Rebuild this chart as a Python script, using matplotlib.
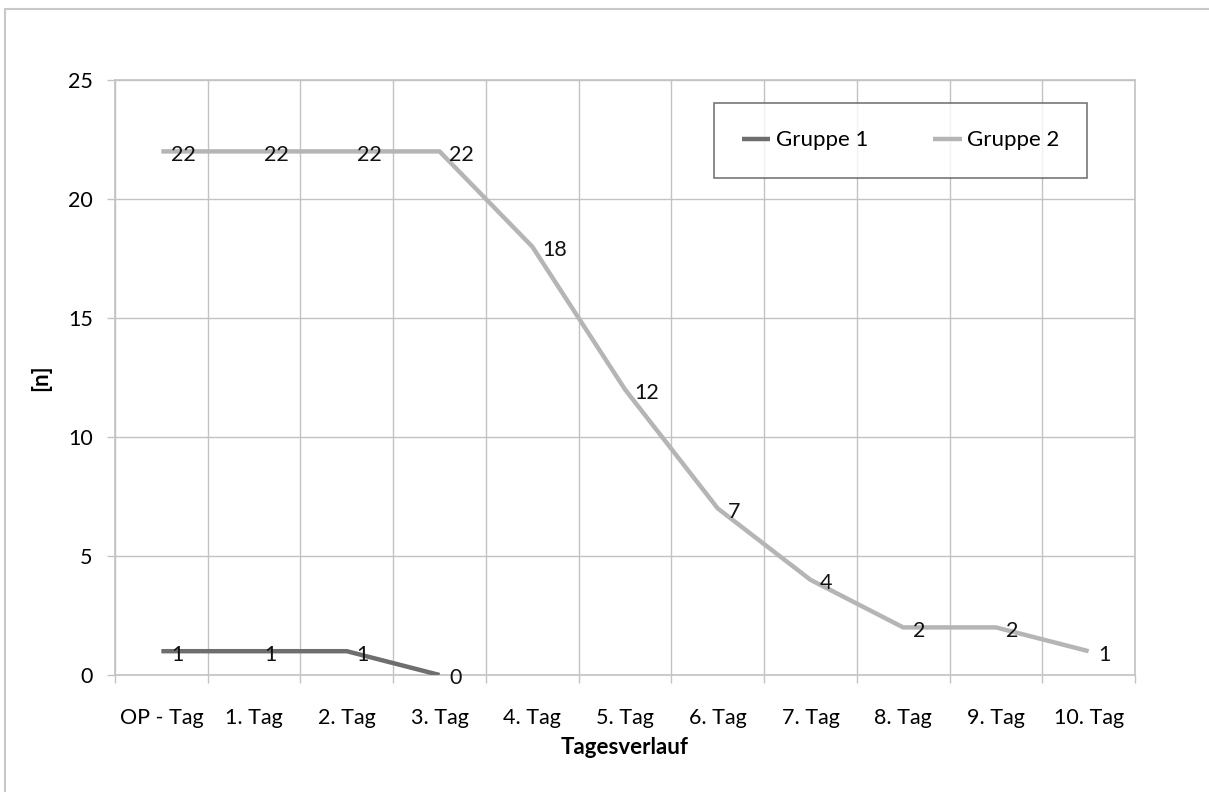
import numpy as np
import matplotlib.pyplot as plt
from matplotlib.patches import Rectangle

# -----------------------------
# DATA
# -----------------------------

tage = ["OP - Tag", "1. Tag", "2. Tag", "3. Tag", "4. Tag", "5. Tag",
        "6. Tag", "7. Tag", "8. Tag", "9. Tag", "10. Tag"]

gruppe_1 = [1, 1, 1, 0]
gruppe_2 = [22, 22, 22, 22, 18, 12, 7, 4, 2, 2, 1]

# -----------------------------
# STYLE
# -----------------------------

plt.rcParams['font.family'] = ['Lato', 'DejaVu Sans']
grid_col = "#c2c2c2"
col_1 = "#6e6e6e"
col_2 = "#b5b5b5"
fs = 15.5

fig = plt.figure(figsize=(12.09, 7.92), dpi=100)
ax = fig.add_axes([115/1209, 1 - 675/792, (1135 - 115)/1209, (675 - 80)/792])

# outer chart border (left and top edges only visible)
fig.patches.append(Rectangle((5/1209, -0.1), 1.2, 1 - 9/792 + 0.1,
                             transform=fig.transFigure, fill=False,
                             edgecolor="#c8c8c8", linewidth=1.5))

x1 = np.arange(len(gruppe_1)) + 0.5
x2 = np.arange(len(gruppe_2)) + 0.5

ax.plot(x1, gruppe_1, color=col_1, lw=3.2, solid_joinstyle="round",
        solid_capstyle="butt", label="Gruppe 1", zorder=3)
ax.plot(x2, gruppe_2, color=col_2, lw=3.2, solid_joinstyle="round",
        solid_capstyle="butt", label="Gruppe 2", zorder=3)

# data labels right of each point
for xs, ys in [(x1, gruppe_1), (x2, gruppe_2)]:
    for xv, yv in zip(xs, ys):
        ax.annotate(str(yv), (xv, yv), xytext=(7, -2.5),
                    textcoords="offset points", ha="left", va="center",
                    fontsize=fs, color="#111111", zorder=4)

# axes
ax.set_xlim(0, len(tage))
ax.set_ylim(0, 25)
ax.set_xticks(np.arange(len(tage) + 1))
ax.set_xticklabels([])
ax.set_xticks(np.arange(len(tage)) + 0.5, minor=True)
ax.set_xticklabels(tage, minor=True, fontsize=fs)
ax.set_yticks(np.arange(0, 26, 5))
ax.tick_params(axis="y", labelsize=fs, length=6, width=1,
               color=grid_col, pad=10)
ax.tick_params(axis="x", which="major", length=6, width=1, color=grid_col)
ax.tick_params(axis="x", which="minor", length=0, pad=24)

ax.grid(True, which="major", color=grid_col, linewidth=1)
ax.set_axisbelow(True)
for s in ax.spines.values():
    s.set_color(grid_col)
    s.set_linewidth(1.2)

ax.set_xlabel("Tagesverlauf", fontsize=16, fontweight="bold", labelpad=6)
ax.set_ylabel("[n]", fontsize=16, fontweight="bold", labelpad=12)

leg = ax.legend(ncol=2, loc="upper left", bbox_to_anchor=(0.587, 0.962),
                fontsize=16, frameon=True, fancybox=False,
                handlelength=1.3, handletextpad=0.25, columnspacing=2.9,
                borderpad=1.25, borderaxespad=0)
leg.get_frame().set_edgecolor("#555555")
leg.get_frame().set_linewidth(1.2)

fig.savefig("out.png", dpi=100)
